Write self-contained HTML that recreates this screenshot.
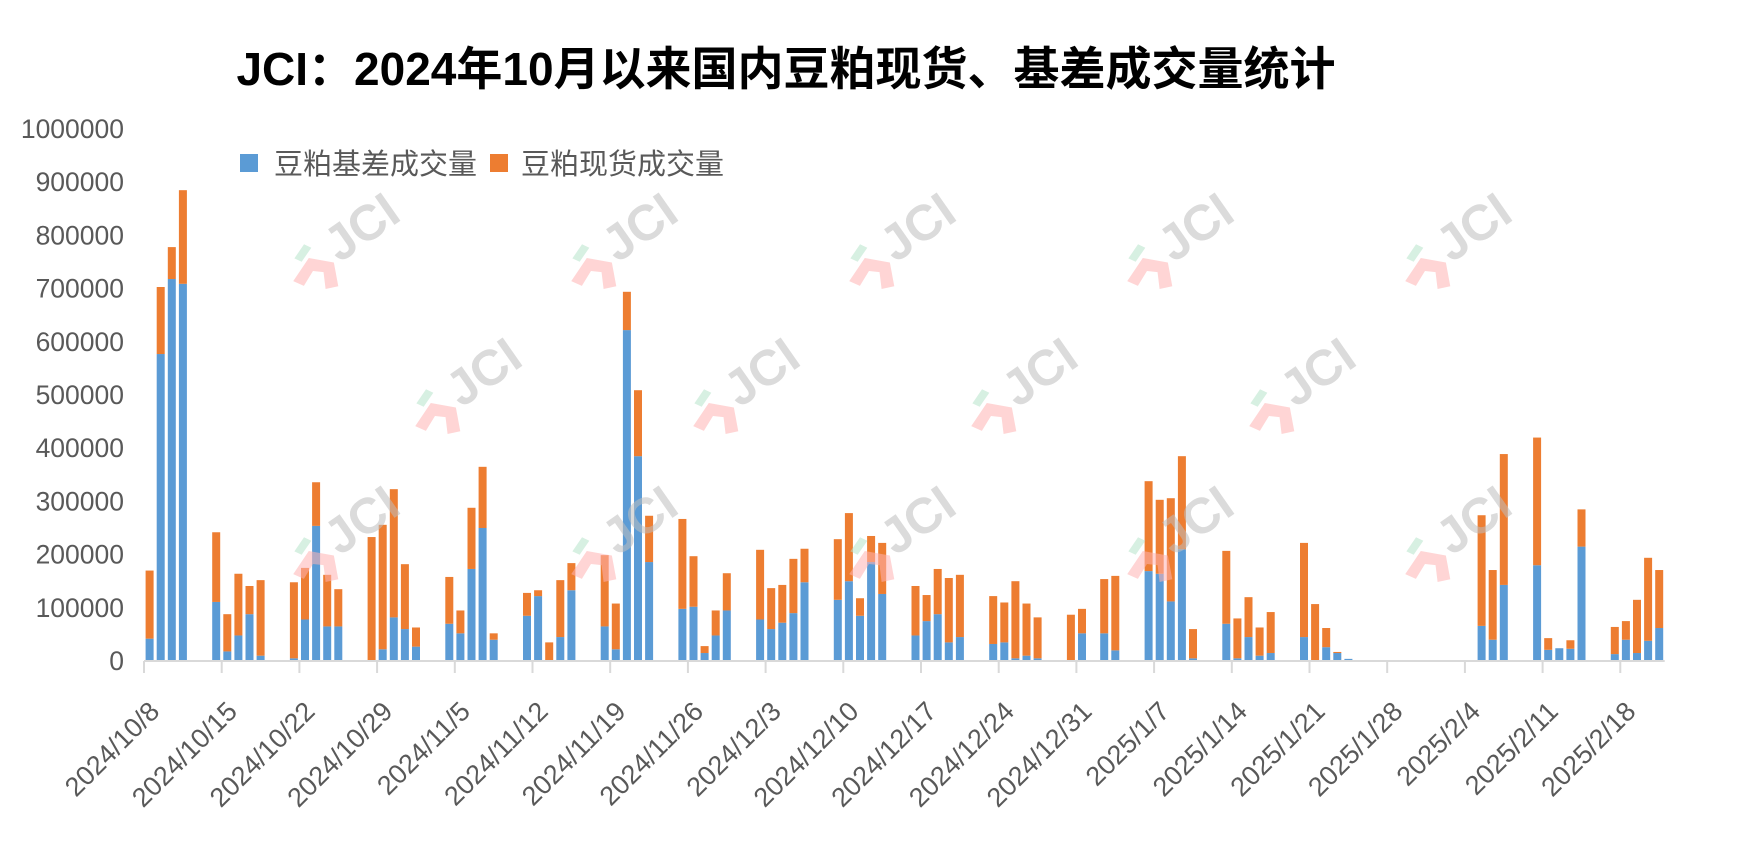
<!DOCTYPE html>
<html><head><meta charset="utf-8">
<style>
html,body{margin:0;padding:0;background:#fff;}
svg{display:block;font-family:"Liberation Sans","Noto Sans CJK SC",sans-serif;}
</style></head>
<body>
<svg id="chart" width="1743" height="860" viewBox="0 0 1743 860" xmlns="http://www.w3.org/2000/svg">
<rect width="1743" height="860" fill="#fff"/>
<text x="786" y="85" text-anchor="middle" font-size="46" font-weight="bold" fill="#000" font-family="'Liberation Sans','Noto Sans CJK SC',sans-serif">JCI：2024年10月以来国内豆粕现货、基差成交量统计</text>
<g>
<rect x="240" y="154" width="18" height="18" fill="#5b9bd5"/>
<text x="274" y="174" font-size="29" fill="#595959">豆粕基差成交量</text>
<rect x="490" y="154" width="18" height="18" fill="#ed7d31"/>
<text x="521" y="174" font-size="29" fill="#595959">豆粕现货成交量</text>
</g>
<g id="yaxis"></g>
<g id="bars"></g>
<g id="wm" opacity="0.55"></g>
<g id="xaxis"></g>
</svg>
<script>
// day index (from 2024/10/8) of each trading day with data
const dayIndex = [0,1,2,3, 6,7,8,9,10, 13,14,15,16,17, 20,21,22,23,24, 27,28,29,30,31, 34,35,36,37,38, 41,42,43,44,45, 48,49,50,51,52, 55,56,57,58,59, 62,63,64,65,66, 69,70,71,72,73, 76,77,78,79,80, 83,84,86,87, 90,91,92,93,94, 97,98,99,100,101, 104,105,106,107,108, 120,121,122, 125,126,127,128,129, 132,133,134,135,136];
const basisVolume = [42000,577000,718000,709000, 111000,18000,48000,88000,10000, 5000,78000,254000,65000,65000, 0,22000,82000,60000,27000, 70000,52000,173000,250000,40000, 85000,122000,0,45000,133000, 65000,22000,622000,385000,186000, 98000,102000,15000,48000,95000, 78000,60000,72000,90000,148000, 115000,150000,85000,186000,126000, 48000,75000,88000,35000,45000, 32000,35000,5000,10000,5000, 0,52000,52000,20000, 169000,164000,112000,210000,5000, 70000,5000,45000,10000,15000, 45000,0,26000,15000,4000, 66000,40000,143000, 180000,21000,24000,23000,215000, 13000,40000,15000,38000,62000];
const spotVolume = [128000,126000,60000,176000, 131000,70000,116000,53000,142000, 143000,97000,82000,97000,70000, 233000,234000,241000,122000,36000, 88000,43000,115000,115000,12000, 43000,11000,35000,107000,51000, 134000,86000,72000,124000,87000, 169000,95000,13000,47000,70000, 131000,77000,71000,102000,63000, 114000,128000,33000,49000,96000, 93000,49000,85000,121000,117000, 90000,75000,145000,98000,77000, 87000,46000,102000,140000, 169000,139000,194000,175000,55000, 137000,75000,75000,53000,77000, 177000,107000,36000,2000,0, 208000,131000,246000, 240000,22000,0,16000,70000, 51000,35000,100000,156000,109000];
const yTicks = [0,100000,200000,300000,400000,500000,600000,700000,800000,900000,1000000];
const xTickLabels = ["2024/10/8","2024/10/15","2024/10/22","2024/10/29","2024/11/5","2024/11/12","2024/11/19","2024/11/26","2024/12/3","2024/12/10","2024/12/17","2024/12/24","2024/12/31","2025/1/7","2025/1/14","2025/1/21","2025/1/28","2025/2/4","2025/2/11","2025/2/18"];

const NS="http://www.w3.org/2000/svg";
const X0=144, SLOT=11.1, NSLOT=137, Y0=661, YTOP=129, YMAX=1000000;
function xs(i){return X0+SLOT*i;}
function ys(v){return Y0-(Y0-YTOP)*v/YMAX;}
function mk(tag,attrs,parent){const e=document.createElementNS(NS,tag);for(const k in attrs)e.setAttribute(k,attrs[k]);parent.appendChild(e);return e;}

const ya=document.getElementById('yaxis');
yTicks.forEach(v=>{
  const t=mk('text',{x:124,y:ys(v)+9,'text-anchor':'end','font-size':26.5,fill:'#595959'},ya);
  
  
  t.textContent=v;
});

const bars=document.getElementById('bars');
dayIndex.forEach((d,k)=>{
  const x=xs(d)+1.6, w=8;
  const b=basisVolume[k], s=spotVolume[k];
  if(b>0){
    const r=mk('rect',{x:x,y:ys(b),width:w,height:Y0-ys(b),fill:'#5b9bd5'},bars);
    
    
  }
  if(s>0){
    const r=mk('rect',{x:x,y:ys(b+s),width:w,height:ys(b)-ys(b+s),fill:'#ed7d31'},bars);
    
    
  }
});

// watermarks
const wm=document.getElementById('wm');
const wmPos=[[345,240],[623,240],[901,240],[1179,240],[1457,240],[467,385],[745,385],[1023,385],[1301,385],[345,533],[623,533],[901,533],[1179,533],[1457,533]];
wmPos.forEach(p=>{
  const g=mk('g',{transform:`translate(${p[0]},${p[1]}) rotate(-35)`},wm);
  
  
  mk('path',{d:'M-66,4 L-40,-6 L-22,12 L-32,34 L-44,29 L-36,14 L-44,7 L-60,14 Z',fill:'#ffb3b3'},g);
  mk('path',{d:'M-52,-14 L-36,-20 L-32,-13 L-48,-7 Z',fill:'#b7e4cb'},g);
  const t=mk('text',{x:-18,y:16,'font-size':50,'font-weight':'bold',fill:'#bdbdbd'},g);
  t.textContent='JCI';
});

const xa=document.getElementById('xaxis');
const axl=mk('line',{x1:X0,y1:Y0,x2:xs(NSLOT),y2:Y0,stroke:'#d9d9d9','stroke-width':2},xa);


xTickLabels.forEach((lab,i)=>{
  const x=xs(i*7);
  const tk=mk('line',{x1:x,y1:Y0,x2:x,y2:Y0+12,stroke:'#d9d9d9','stroke-width':2},xa);
  
  
  const ax=x+17, ay=Y0+52;
  const t=mk('text',{x:ax,y:ay,'text-anchor':'end','font-size':27,fill:'#595959',transform:`rotate(-45 ${ax} ${ay})`},xa);
  
  
  t.textContent=lab;
});
</script>
</body></html>
